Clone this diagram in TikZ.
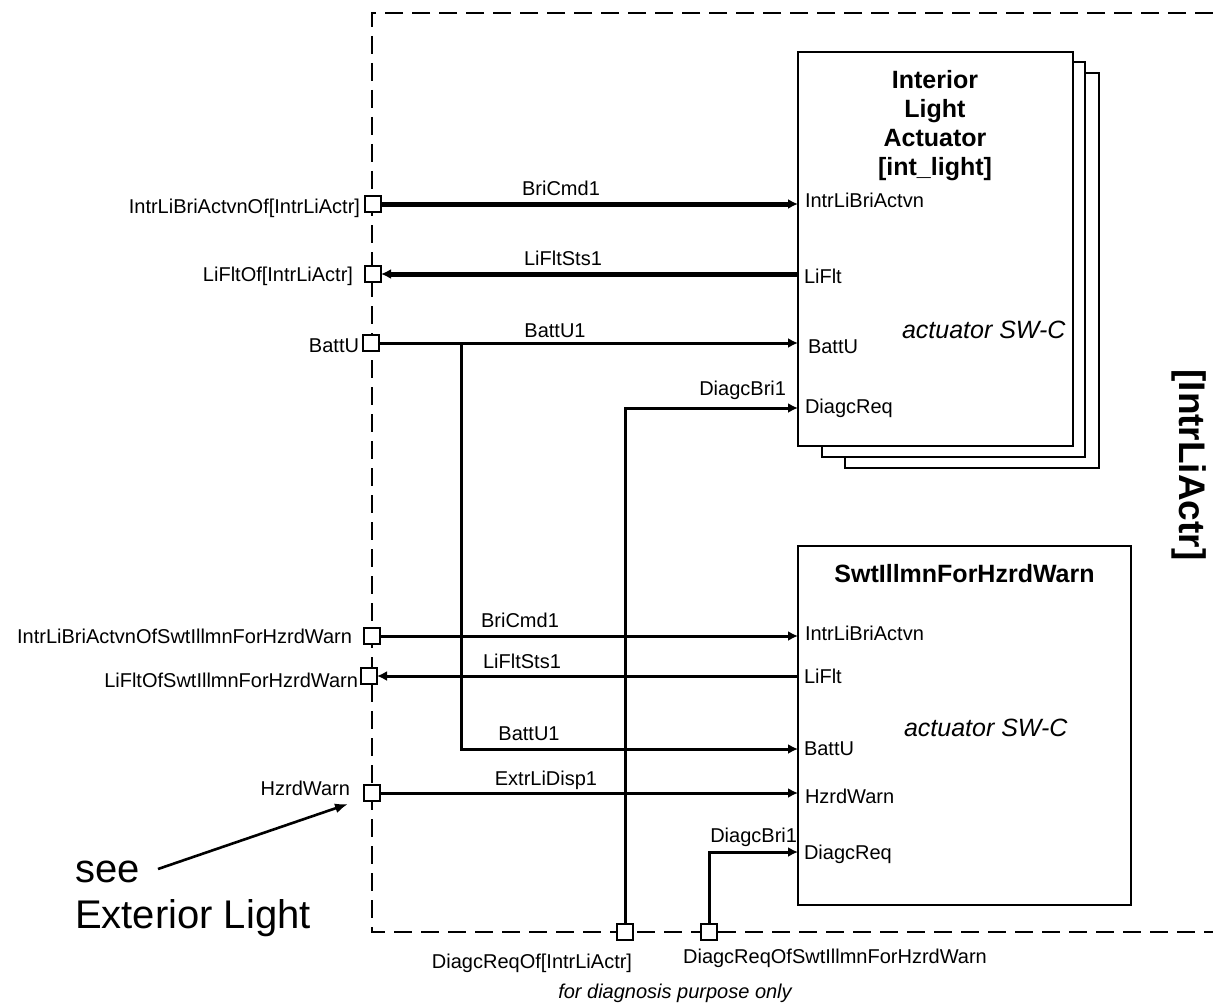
\documentclass[tikz,border=0pt]{standalone}
\usepackage{fontspec}
\setmainfont{Liberation Sans}
\usetikzlibrary{arrows.meta}
\begin{document}
\begin{tikzpicture}[x=1pt,y=-1pt,
  lbl/.style={inner sep=0pt, outer sep=0pt, font=\fontsize{20}{24}\selectfont},
  ttl/.style={inner sep=0pt, outer sep=0pt, font=\bfseries\fontsize{25}{29}\selectfont},
  ital/.style={inner sep=0pt, outer sep=0pt, font=\itshape\fontsize{25}{29}\selectfont},
  smallital/.style={inner sep=0pt, outer sep=0pt, font=\itshape\fontsize{20}{24}\selectfont},
  big/.style={inner sep=0pt, outer sep=0pt, font=\fontsize{40}{46}\selectfont},
  port/.style={draw, line width=2.6pt, fill=white, minimum size=16pt, inner sep=0pt, outer sep=0pt},
  swc/.style={draw, line width=2.7pt, fill=white, inner sep=0pt, outer sep=0pt},
  frame/.style={line width=2.8pt, dash pattern=on 18pt off 9pt},
  sig/.style={line width=3pt, -{Latex[length=10pt,width=10pt]}},
  sigthick/.style={line width=5pt, -{Latex[length=10pt,width=10pt]}},
  wire/.style={line width=3pt},
]
\useasboundingbox (0,0) rectangle (1213,1006);
\fill[white] (0,0) rectangle (1213,1006);

% composition frame
\draw[frame] (1213,13) -| (372,932) -- (1213,932);

% stacked Interior Light Actuator boxes
\node[swc, minimum width=254pt, minimum height=395pt] (ila3) at (972,270.5) {};
\node[swc, minimum width=263pt, minimum height=395pt] (ila2) at (953.5,259.5) {};
\node[swc, minimum width=275pt, minimum height=394pt] (ila) at (935.5,249) {};
% SwtIllmnForHzrdWarn box
\node[swc, minimum width=333pt, minimum height=359pt] (swt) at (964.5,725.5) {};

% ports on the frame
\node[port] (P1) at (373,204) {};
\node[port] (P2) at (373,274) {};
\node[port] (P3) at (371,343) {};
\node[port] (P4) at (372,636) {};
\node[port] (P5) at (369,676) {};
\node[port] (P6) at (372,793) {};
\node[port] (P7) at (625,932) {};
\node[port] (P8) at (709,932) {};

% helper coordinates
\coordinate (br) at (461,343);
\coordinate (brb) at (461,749);
\coordinate (d1) at (625,408);
\coordinate (d2) at (709,852);

% connectors
\draw[sigthick] (P1.east) -- (P1 -| ila.west);
\draw[sigthick] (P2 -| ila.west) -- (P2.east);
\draw[sig] (P3.east) -- (P3 -| ila.west);
\draw[sig] (br) -- (brb) -- (brb -| swt.west);
\draw[sig] (P7.north) -- (d1) -- (d1 -| ila.west);
\draw[sig] (P4.east) -- (P4 -| swt.west);
\draw[sig] (P5 -| swt.west) -- (P5.east);
\draw[sig] (P6.east) -- (P6 -| swt.west);
\draw[sig] (P8.north) -- (d2) -- (d2 -| swt.west);

% port labels (outside)
\node[lbl, anchor=base east] (l1) at (360,213) {IntrLiBriActvnOf[IntrLiActr]};
\node[lbl, anchor=base east] (l2) at (353,281) {LiFltOf[IntrLiActr]};
\node[lbl, anchor=base east] (l3) at (359,352) {BattU};
\node[lbl, anchor=base east] (l4) at (352,643) {IntrLiBriActvnOfSwtIllmnForHzrdWarn};
\node[lbl, anchor=base east] (l5) at (358,687) {LiFltOfSwtIllmnForHzrdWarn};
\node[lbl, anchor=base east] (l6) at (350,795) {HzrdWarn};
\node[lbl, anchor=base] (l7) at (532,968) {DiagcReqOf[IntrLiActr]};
\node[lbl, anchor=base] (l8) at (835,963) {DiagcReqOfSwtIllmnForHzrdWarn};
\node[smallital, anchor=base] (diag) at (675,998) {for diagnosis purpose only};

% box 1 texts
\node[ttl, align=center, anchor=north] (t1) at (935,70) {Interior\\Light\\Actuator\\{[int\_light]}};
\node[lbl, anchor=base west] (a1) at (805,207) {IntrLiBriActvn};
\node[lbl, anchor=base west] (a2) at (804,283) {LiFlt};
\node[lbl, anchor=base west] (a3) at (808,353) {BattU};
\node[lbl, anchor=base west] (a4) at (805,413) {DiagcReq};
\node[ital, anchor=base west] (s1) at (902,338) {actuator SW-C};

% box 2 texts
\node[ttl, anchor=base] (t2) at (964.5,582) {SwtIllmnForHzrdWarn};
\node[lbl, anchor=base west] (b1) at (805,640) {IntrLiBriActvn};
\node[lbl, anchor=base west] (b2) at (804,683) {LiFlt};
\node[lbl, anchor=base west] (b3) at (804,755) {BattU};
\node[lbl, anchor=base west] (b4) at (805,803) {HzrdWarn};
\node[lbl, anchor=base west] (b5) at (804,859) {DiagcReq};
\node[ital, anchor=base west] (s2) at (904,736) {actuator SW-C};

% connector labels
\node[lbl, anchor=base] (c1) at (561,195) {BriCmd1};
\node[lbl, anchor=base] (c2) at (563,265) {LiFltSts1};
\node[lbl, anchor=base] (c3) at (555,337) {BattU1};
\node[lbl, anchor=base east] (c4) at (786,395) {DiagcBri1};
\node[lbl, anchor=base] (c5) at (520,627) {BriCmd1};
\node[lbl, anchor=base] (c6) at (522,668) {LiFltSts1};
\node[lbl, anchor=base] (c7) at (529,740) {BattU1};
\node[lbl, anchor=base] (c8) at (546,785) {ExtrLiDisp1};
\node[lbl, anchor=base east] (c9) at (797,842) {DiagcBri1};

% composition name
\node[inner sep=0pt, font=\bfseries\fontsize{37}{40}\selectfont, rotate=-90] (comp) at (1189,465) {[IntrLiActr]};

% note
\node[big, anchor=base west] (see) at (75,882) {see};
\node[big, anchor=base west] (ext) at (75,928) {Exterior Light};
\coordinate (seestart) at (158,869);
\coordinate (seeend) at (348,804);
\draw[line width=2.6pt, -{Latex[length=13pt,width=10pt]}] (seestart) -- (seeend);
\end{tikzpicture}
\end{document}
